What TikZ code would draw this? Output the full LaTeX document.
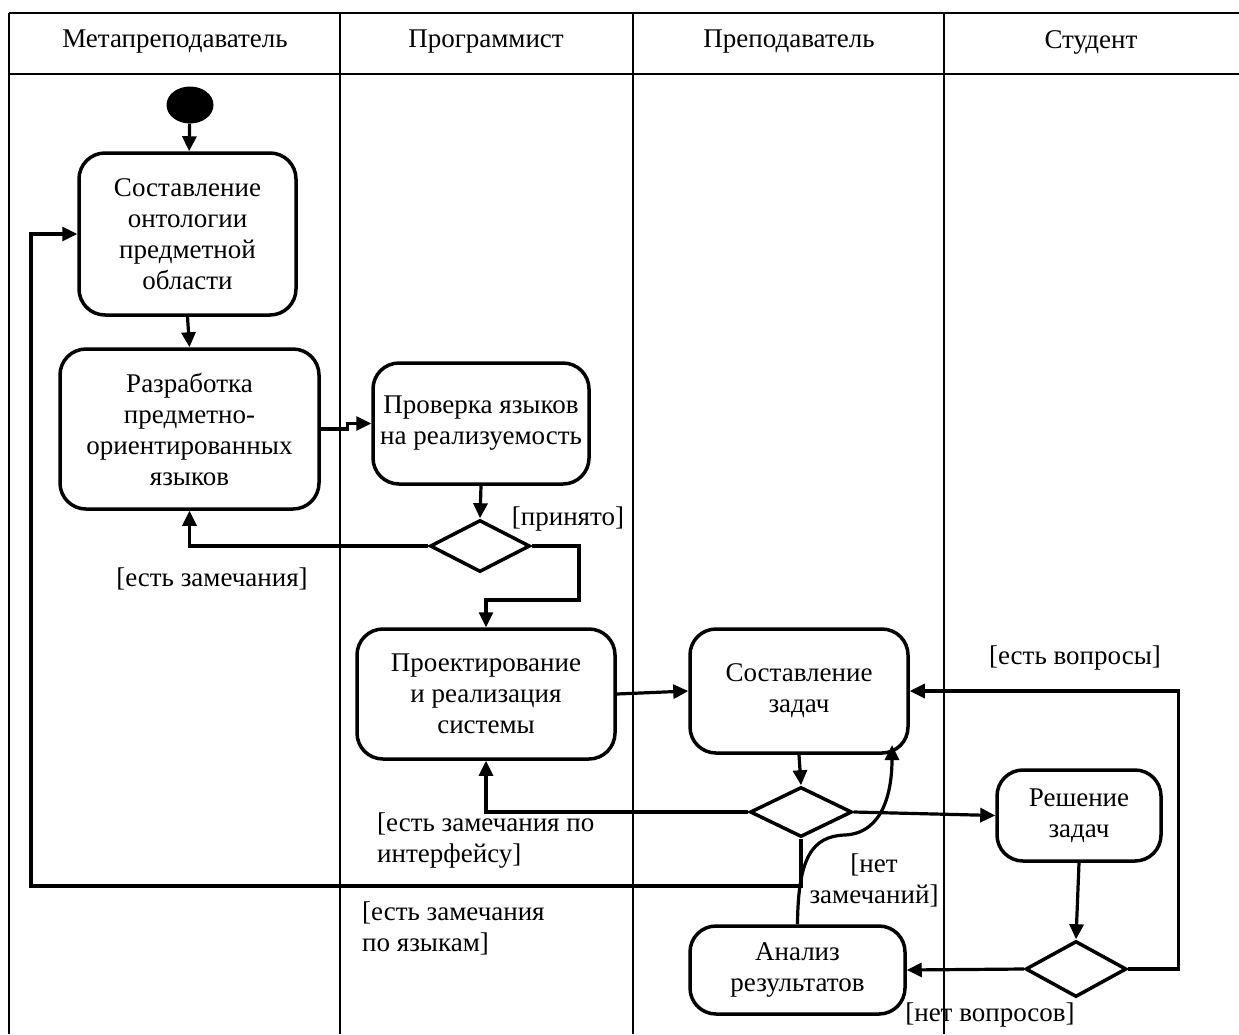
\documentclass[tikz,border=0pt]{standalone}
\usepackage{fontspec}
\setmainfont{Liberation Serif}
\usepackage{tikz}
\usetikzlibrary{arrows.meta,shapes.geometric}

\begin{document}
\begin{tikzpicture}[x=1pt,y=-1pt,
  act/.style={draw,line width=3.5pt,rounded corners=26pt,align=center,inner sep=0pt},
  decision/.style={draw,diamond,line width=3.5pt,inner sep=0pt},
  flow/.style={line width=3.2pt,-{Triangle[length=15pt,width=14pt]}},
  guard/.style={inner sep=0pt,align=center}]
\fontsize{27}{31}\selectfont
\useasboundingbox (0,0) rectangle (1239,1034);
% swimlanes
\draw[line width=2pt] (9,13)--(1239,13);
\draw[line width=2.5pt] (9,74)--(1239,74);
\draw[line width=1.5pt] (9,13)--(9,1034);
\foreach \lx in {340,633,944} \draw[line width=1.5pt] (\lx,13)--(\lx,1034);
\node (hmeta) at (175,42) {Метапреподаватель};
\node (hprog) at (486,42) {Программист};
\node (hteach) at (789,42) {Преподаватель};
\node (hstud) at (1091,42) {Студент};
% activities
\node[ellipse,fill=black,minimum width=47pt,minimum height=37pt,inner sep=0pt] (start) at (190,105) {};
\node[act,minimum width=217pt,minimum height=162pt] (ontol) at (187.5,234) {Составление\\онтологии\\предметной\\области};
\node[act,minimum width=259pt,minimum height=160pt] (dsl) at (189.5,429) {Разработка\\предметно-\\ориентированных\\языков};
\node[act,minimum width=216pt,minimum height=121pt] (check) at (481,423.5) {Проверка языков\\на реализуемость};
\node[decision,minimum width=100pt,minimum height=52pt] (dec1) at (480,546) {};
\node[act,minimum width=258pt,minimum height=130pt] (impl) at (486,694) {Проектирование\\и реализация\\системы};
\node[act,minimum width=218pt,minimum height=124pt] (tasks) at (799,691) {Составление\\задач};
\node[decision,minimum width=102pt,minimum height=50pt] (dec2) at (801,812) {};
\node[act,minimum width=164pt,minimum height=91pt] (solve) at (1079,815.5) {Решение\\задач};
\node[decision,minimum width=101pt,minimum height=56pt] (dec3) at (1076,969) {};
\node[act,minimum width=215pt,minimum height=88pt] (analysis) at (797.5,970) {Анализ\\результатов};
% guards
\node[guard] (gacc) at (568,519) {[принято]};
\node[guard] (grem) at (212,579) {[есть замечания]};
\node[guard,align=left,anchor=west] (gui) at (377,841) {[есть замечания по\\интерфейсу]};
\node[guard,align=left,anchor=west] (glang) at (362,928) {[есть замечания\\по языкам]};
\node[guard] (gnone) at (874,880) {[нет\\замечаний]};
\node[guard] (gquest) at (1075,658) {[есть вопросы]};
\node[guard] (gnoq) at (990,1015) {[нет вопросов]};
% flows
\coordinate (accbend) at (579,600);
\coordinate (backbend) at (31,886);
\coordinate (curvetip) at (892,745);
\draw[flow] (start) -- (ontol);
\draw[flow] (ontol.south) -- (dsl.north);
\draw[flow] (dsl.east) -- ++(27,0) |- (check.west);
\draw[flow] (check.south) -- (dec1.north);
\draw[flow] (dec1.west) -| (dsl.south);
\draw[flow] (dec1.east) -| (accbend) -| (impl.north);
\draw[flow] (impl.east) -- (tasks.west);
\draw[flow] (tasks.south) -- (dec2.north);
\draw[flow] (dec2.west) -| (impl.south);
\draw[flow] (dec2.south) |- (backbend) |- (ontol.west);
\draw[flow] (dec2.east) -- (solve.west);
\draw[flow] (solve.south) -- (dec3.north);
\draw[flow] (dec3.west) -- (analysis.east);
\draw[flow] (dec3.east) -- ++(50,0) |- (tasks.east);
\draw[flow] (analysis.north) .. controls (798,858) and (812,836) .. (845,835)
  .. controls (884,833) and (892,790) .. (curvetip);
\end{tikzpicture}
\end{document}
